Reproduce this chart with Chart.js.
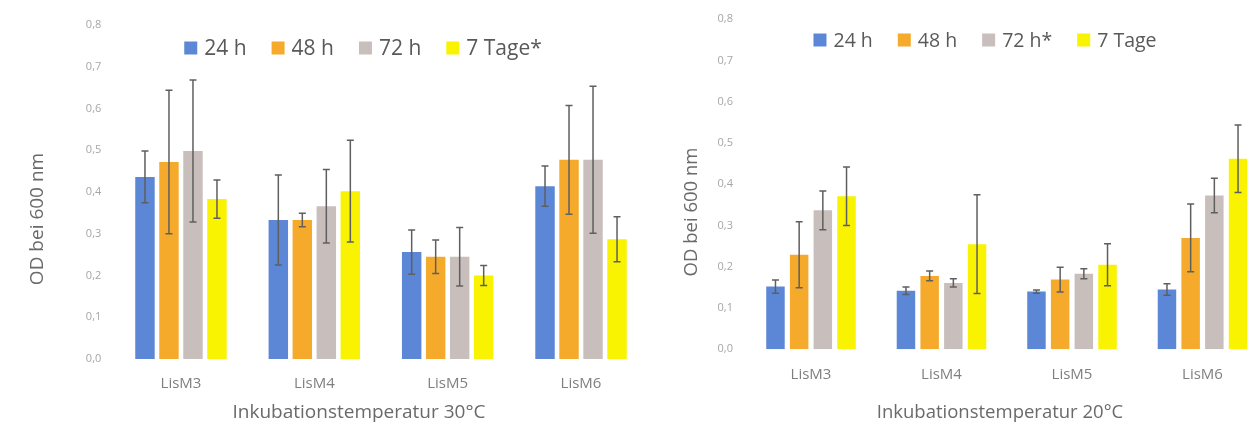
<!DOCTYPE html>
<html lang="de">
<head>
<meta charset="utf-8">
<title>OD bei 600 nm</title>
<script src="https://cdn.jsdelivr.net/npm/chart.js@4"></script>
<style>
  html, body { margin: 0; padding: 0; background: #fff; overflow: hidden; }
  body { width: 1251px; height: 434px; position: relative; }
  canvas { position: absolute; top: 0; }
  #chart30 { left: 0; }
  #chart20 { left: 650px; }
</style>
</head>
<body>
<canvas id="chart30" width="650" height="434"></canvas>
<canvas id="chart20" width="630" height="434"></canvas>
<script>
const categories = ['LisM3', 'LisM4', 'LisM5', 'LisM6'];

// Inkubationstemperatur 30°C
const labels30 = ['24 h', '48 h', '72 h', '7 Tage*'];
const h24_30 = [0.436, 0.333, 0.256, 0.414];
const h48_30 = [0.472, 0.333, 0.245, 0.477];
const h72_30 = [0.498, 0.366, 0.245, 0.477];
const d7_30 = [0.383, 0.402, 0.200, 0.287];
const h24_30_err = [0.062, 0.108, 0.053, 0.048];
const h48_30_err = [0.172, 0.016, 0.040, 0.130];
const h72_30_err = [0.170, 0.088, 0.070, 0.176];
const d7_30_err = [0.046, 0.122, 0.024, 0.054];

// Inkubationstemperatur 20°C
const labels20 = ['24 h', '48 h', '72 h*', '7 Tage'];
const h24_20 = [0.152, 0.142, 0.140, 0.145];
const h48_20 = [0.229, 0.178, 0.169, 0.270];
const h72_20 = [0.337, 0.161, 0.183, 0.373];
const d7_20 = [0.371, 0.255, 0.205, 0.462];
const h24_20_err = [0.016, 0.009, 0.004, 0.014];
const h48_20_err = [0.080, 0.012, 0.030, 0.082];
const h72_20_err = [0.047, 0.010, 0.012, 0.042];
const d7_20_err = [0.071, 0.120, 0.051, 0.082];

const yTicks = { min: 0, max: 0.8, step: 0.1 };

const colors = ['#5b87d6', '#f5aa2c', '#c8bfbc', '#f9f200'];
const FONT = '"Open Sans", sans-serif';
Chart.defaults.font.family = FONT;

const errorBars = {
  id: 'errorBars',
  afterDatasetsDraw(chart) {
    const ctx = chart.ctx;
    const y = chart.scales.y;
    ctx.save();
    ctx.strokeStyle = '#5f5f5f';
    ctx.lineWidth = 1.5;
    chart.data.datasets.forEach((ds, i) => {
      chart.getDatasetMeta(i).data.forEach((bar, j) => {
        const top = y.getPixelForValue(ds.data[j] + ds.errors[j]);
        const bottom = y.getPixelForValue(ds.data[j] - ds.errors[j]);
        ctx.beginPath();
        ctx.moveTo(bar.x, top);
        ctx.lineTo(bar.x, bottom);
        ctx.moveTo(bar.x - 3.5, top);
        ctx.lineTo(bar.x + 3.5, top);
        ctx.moveTo(bar.x - 3.5, bottom);
        ctx.lineTo(bar.x + 3.5, bottom);
        ctx.stroke();
      });
    });
    ctx.restore();
  }
};

// legend and axis titles placed like in the Excel original
const captions = {
  id: 'captions',
  afterDraw(chart, args, opts) {
    const ctx = chart.ctx;
    ctx.save();
    ctx.fillStyle = '#6a6a6a';
    ctx.textAlign = 'center';
    ctx.textBaseline = 'middle';
    ctx.font = opts.titleSize + 'px ' + FONT;
    ctx.fillText(opts.xTitle, opts.xTitleAt[0], opts.xTitleAt[1]);
    ctx.translate(opts.yTitleAt[0], opts.yTitleAt[1]);
    ctx.rotate(-Math.PI / 2);
    ctx.fillText(opts.yTitle, 0, 0);
    ctx.restore();

    ctx.save();
    ctx.font = opts.legendSize + 'px ' + FONT;
    ctx.textBaseline = 'middle';
    const box = 13, gap = 7, spacing = 25;
    const items = chart.data.datasets.map(ds => ({
      text: ds.label,
      color: ds.backgroundColor,
      w: ctx.measureText(ds.label).width
    }));
    const total = items.reduce((s, it) => s + box + gap + it.w, 0) + spacing * (items.length - 1);
    let x = opts.legendAt[0] - total / 2;
    const y = opts.legendAt[1];
    items.forEach(it => {
      ctx.fillStyle = it.color;
      ctx.fillRect(x, y - box / 2, box, box);
      ctx.fillStyle = '#595959';
      ctx.fillText(it.text, x + box + gap, y + 1);
      x += box + gap + it.w + spacing;
    });
    ctx.restore();
  }
};

function makeChart(id, series, errors, labels, cfg) {
  return new Chart(document.getElementById(id), {
    type: 'bar',
    data: {
      labels: categories,
      datasets: series.map((data, i) => ({
        label: labels[i],
        data: data,
        errors: errors[i],
        backgroundColor: colors[i],
        categoryPercentage: cfg.catPct,
        barPercentage: cfg.barPct
      }))
    },
    options: {
      responsive: false,
      animation: false,
      devicePixelRatio: 1,
      layout: { padding: cfg.padding },
      plugins: {
        legend: { display: false },
        tooltip: { enabled: false },
        captions: cfg.captions
      },
      scales: {
        x: {
          grid: { display: false, drawTicks: false },
          border: { display: false },
          ticks: { color: '#7f7f7f', font: { size: 15 }, padding: 16 },
          afterFit: s => { s.height = cfg.xHeight; }
        },
        y: {
          min: yTicks.min,
          max: yTicks.max,
          grid: { display: false, drawTicks: false },
          border: { display: false },
          ticks: {
            stepSize: yTicks.step,
            color: '#a6a6a6',
            font: { size: 11 },
            padding: cfg.tickPad,
            callback: v => v.toFixed(1).replace('.', ',')
          },
          afterFit: s => { s.width = cfg.yWidth; }
        }
      }
    },
    plugins: [errorBars, captions]
  });
}

makeChart('chart30',
  [h24_30, h48_30, h72_30, d7_30],
  [h24_30_err, h48_30_err, h72_30_err, d7_30_err],
  labels30, {
    catPct: 0.72, barPct: 0.81,
    padding: { left: 0, right: 2.3, top: 25, bottom: 0 },
    yWidth: 114.3, xHeight: 75, tickPad: 13,
    captions: {
      xTitle: 'Inkubationstemperatur 30°C', xTitleAt: [359, 413],
      yTitle: 'OD bei 600 nm', yTitleAt: [38, 219],
      titleSize: 19, legendSize: 21, legendAt: [363, 48]
    }
  });

makeChart('chart20',
  [h24_20, h48_20, h72_20, d7_20],
  [h24_20_err, h48_20_err, h72_20_err, d7_20_err],
  labels20, {
    catPct: 0.726, barPct: 0.78,
    padding: { left: 0, right: 12.25, top: 17.3, bottom: 0 },
    yWidth: 95.75, xHeight: 84.7, tickPad: 12.75,
    captions: {
      xTitle: 'Inkubationstemperatur 20°C', xTitleAt: [350, 413],
      yTitle: 'OD bei 600 nm', yTitleAt: [42, 212],
      titleSize: 18.5, legendSize: 19.5, legendAt: [335, 40]
    }
  });
</script>
</body>
</html>
